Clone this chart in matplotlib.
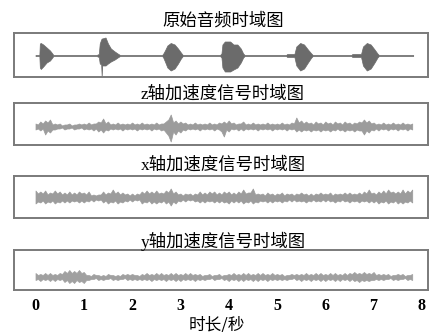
import numpy as np
import matplotlib
matplotlib.use("Agg")
import matplotlib.pyplot as plt

plt.rcParams['font.family'] = ['Liberation Serif', 'Noto Sans CJK SC', 'DejaVu Sans']

# ---------------- data (amplitudes in pixel-like units) -------------
titles = ["原始音频时域图", "z轴加速度信号时域图", "x轴加速度信号时域图", "y轴加速度信号时域图"]
xlabel = "时长/秒"
xticks = [0, 1, 2, 3, 4, 5, 6, 7, 8]

# original audio: envelope points (time s, upper, lower)
audio_t = [0.0, 0.08, 0.09, 0.11, 0.16, 0.23, 0.30, 0.34, 0.37,
           1.27, 1.29, 1.31, 1.33, 1.36, 1.37, 1.38, 1.45, 1.50, 1.56, 1.64, 1.70, 1.75,
           2.62, 2.64, 2.68, 2.73, 2.80, 2.88, 2.95, 3.01, 3.05,
           3.82, 3.85, 3.87, 3.92, 4.03, 4.10, 4.18, 4.25, 4.30, 4.33,
           5.19, 5.21, 5.36, 5.40, 5.48, 5.56, 5.64, 5.71, 5.74,
           6.54, 6.56, 6.74, 6.78, 6.86, 6.94, 7.02, 7.08, 7.11,
           7.82]
audio_up = [0.5, 0.5, 12, 12.5, 11, 8, 5, 2.5, 0.5,
            0.5, 1.2, 1.2, 12, 16, 17, 17, 18, 12, 7, 4, 2, 0.5,
            0.5, 1.5, 5, 10, 12.5, 11, 7, 3, 0.5,
            0.5, 2, 11, 14, 14, 11, 11, 7, 2, 0.5,
            0.5, 1.5, 1.5, 9, 12.5, 11, 6, 2, 0.5,
            0.5, 1.5, 1.5, 9, 12.5, 11, 6, 2, 0.5,
            0.5]
audio_dn = [0.5, 0.5, 12, 13.5, 11, 7, 5, 2.5, 0.5,
            0.5, 1.2, 1.2, 8, 9, 21, 10, 10, 8, 6, 4, 2, 0.5,
            0.5, 1.5, 6, 12, 15, 13, 8, 3, 0.5,
            0.5, 2, 12, 16, 16, 14, 12, 7, 2, 0.5,
            0.5, 1.5, 1.5, 10, 15, 13, 7, 2, 0.5,
            0.5, 1.5, 1.5, 10, 15, 13, 7, 2, 0.5,
            0.5]

# accelerometer envelopes: peaks read every 0.1 s (0.0 .. 7.8 s)
z_up = [3, 5, 6, 7, 3, 3, 2, 3, 2, 3,
        3, 4, 3, 5, 8, 5, 3, 4, 3, 3,
        4, 3, 4, 3, 3, 4, 3, 5, 12, 6,
        5, 4, 3, 4, 3, 3, 4, 3, 4, 5,
        6, 4, 3, 5, 3, 4, 3, 3, 4, 3,
        3, 4, 3, 4, 9, 6, 5, 4, 5, 4,
        5, 4, 5, 4, 5, 4, 4, 5, 7, 6,
        4, 3, 4, 3, 4, 3, 4, 3, 3]
z_dn = [3, 4, 8, 6, 3, 2, 3, 2, 3, 2,
        3, 3, 4, 5, 6, 4, 3, 3, 4, 3,
        3, 4, 3, 3, 4, 3, 4, 6, 15, 8,
        6, 4, 3, 3, 4, 3, 3, 4, 3, 10,
        5, 3, 4, 4, 3, 3, 4, 3, 3, 4,
        3, 3, 4, 3, 5, 5, 4, 5, 4, 5,
        4, 5, 4, 4, 5, 4, 5, 4, 8, 6,
        4, 4, 3, 4, 3, 4, 3, 4, 3]
x_up = [7, 6, 7, 5, 7, 6, 5, 6, 5, 6,
        5, 6, 3, 3, 6, 5, 8, 6, 5, 4,
        4, 4, 6, 7, 6, 7, 5, 7, 9, 6,
        4, 4, 4, 4, 6, 5, 6, 6, 5, 6,
        6, 5, 6, 8, 5, 9, 4, 4, 5, 4,
        4, 5, 4, 4, 4, 5, 4, 4, 4, 5,
        4, 5, 4, 4, 5, 5, 4, 5, 6, 8,
        5, 6, 7, 8, 6, 6, 8, 7, 8]
x_dn = [6, 5, 6, 5, 6, 5, 5, 5, 4, 5,
        5, 4, 4, 3, 5, 6, 5, 6, 5, 4,
        4, 3, 6, 5, 6, 6, 5, 6, 8, 6,
        4, 4, 3, 4, 5, 5, 4, 5, 5, 5,
        6, 5, 5, 6, 5, 6, 5, 4, 5, 5,
        4, 5, 4, 4, 4, 4, 5, 4, 4, 4,
        4, 4, 5, 4, 4, 5, 4, 5, 4, 5,
        5, 6, 5, 6, 5, 6, 6, 5, 5]
y_up = [4, 3, 4, 4, 3, 4, 6, 7, 6, 7,
        5, 2, 3, 2, 2, 3, 2, 2, 3, 3,
        3, 2, 3, 4, 3, 4, 4, 3, 4, 4,
        3, 4, 4, 3, 3, 2, 3, 2, 3, 2,
        3, 4, 3, 4, 4, 3, 4, 4, 3, 4,
        3, 3, 2, 3, 3, 3, 4, 3, 4, 4,
        3, 4, 4, 3, 4, 4, 5, 4, 5, 4,
        5, 3, 3, 3, 2, 3, 3, 2, 3]
y_dn = [3, 4, 3, 4, 4, 3, 5, 6, 6, 5,
        6, 3, 2, 3, 3, 2, 3, 3, 2, 3,
        3, 3, 3, 3, 4, 3, 3, 4, 3, 4,
        4, 3, 3, 4, 3, 3, 2, 3, 2, 3,
        4, 3, 4, 4, 3, 4, 4, 3, 4, 3,
        3, 3, 3, 2, 3, 4, 3, 4, 3, 4,
        4, 3, 4, 4, 3, 4, 4, 5, 4, 4,
        3, 3, 3, 2, 3, 3, 2, 3, 3]

# troughs between the peaks (0.05 .. 7.75 s)
z_up_mid = [2, 3, 4, 2, 2, 1, 2, 1, 2, 2,
            2, 2, 3, 4, 3, 2, 2, 2, 2, 2,
            2, 2, 2, 2, 2, 2, 3, 7, 4, 3,
            3, 2, 2, 2, 2, 2, 2, 2, 3, 3,
            3, 2, 3, 2, 2, 2, 2, 2, 2, 2,
            2, 2, 2, 3, 4, 3, 3, 2, 3, 2,
            3, 2, 3, 2, 3, 2, 3, 4, 4, 3,
            2, 2, 2, 2, 2, 2, 2, 2]
z_dn_mid = [2, 2, 4, 3, 2, 1, 2, 1, 2, 1,
            2, 2, 2, 3, 3, 2, 2, 2, 2, 2,
            2, 2, 2, 2, 2, 2, 3, 9, 5, 4,
            3, 2, 2, 2, 2, 2, 2, 2, 5, 3,
            2, 2, 2, 2, 2, 2, 2, 2, 2, 2,
            2, 2, 2, 2, 3, 3, 3, 3, 3, 3,
            3, 3, 2, 3, 3, 3, 3, 4, 4, 3,
            2, 2, 2, 2, 2, 2, 2, 2]
x_up_mid = [4, 4, 3, 4, 4, 3, 3, 3, 3, 4,
            3, 2, 2, 3, 3, 4, 4, 3, 3, 2,
            2, 3, 4, 4, 4, 4, 4, 5, 4, 3,
            2, 3, 2, 3, 3, 3, 4, 3, 3, 4,
            3, 3, 4, 4, 5, 3, 3, 2, 3, 2,
            3, 2, 3, 2, 3, 3, 2, 2, 3, 3,
            3, 2, 3, 3, 3, 3, 3, 3, 4, 4,
            3, 4, 4, 5, 4, 4, 4, 5]
x_dn_mid = [4, 3, 4, 3, 4, 3, 3, 3, 3, 3,
            3, 2, 2, 2, 3, 4, 3, 4, 3, 2,
            2, 2, 4, 3, 4, 4, 3, 4, 4, 3,
            2, 2, 2, 3, 3, 3, 3, 3, 3, 4,
            3, 3, 3, 4, 3, 4, 3, 3, 3, 3,
            3, 3, 2, 2, 3, 3, 3, 2, 3, 2,
            2, 3, 3, 2, 3, 3, 3, 3, 3, 3,
            3, 4, 3, 4, 3, 4, 4, 3]
y_up_mid = [2, 2, 2, 2, 2, 3, 4, 4, 4, 4,
            2, 1, 2, 1, 1, 2, 1, 1, 2, 2,
            2, 1, 2, 2, 2, 2, 2, 2, 2, 2,
            2, 2, 2, 2, 1, 2, 1, 2, 1, 2,
            2, 2, 2, 2, 2, 2, 2, 2, 2, 2,
            2, 1, 2, 2, 2, 2, 2, 2, 2, 2,
            2, 2, 2, 2, 2, 3, 3, 3, 3, 3,
            2, 2, 2, 1, 2, 2, 1, 2]
y_dn_mid = [2, 2, 2, 2, 2, 2, 3, 4, 3, 4,
            3, 2, 1, 2, 2, 1, 2, 2, 1, 2,
            2, 2, 2, 2, 2, 2, 2, 2, 2, 2,
            2, 2, 2, 2, 2, 2, 1, 2, 1, 2,
            2, 2, 2, 2, 2, 2, 2, 2, 2, 2,
            2, 2, 2, 1, 2, 2, 2, 2, 2, 2,
            2, 2, 2, 2, 2, 2, 3, 3, 3, 3,
            2, 2, 2, 1, 2, 2, 1, 2]


def interleave(peaks, mids):
    out = np.empty(len(peaks) + len(mids))
    out[0::2] = peaks
    out[1::2] = mids
    return out


acc_t = np.round(np.arange(157) * 0.05, 2)

# ---------------- layout ----------------
W, H = 431, 332
fig = plt.figure(figsize=(W / 100, H / 100), dpi=100)

left_px, right_px = 14, 428.5
panels_px = [(33, 77), (103, 145), (176, 218), (250, 290)]   # top, bottom
offsets = [-0.5, -2.5, -0.5, -7]                              # signal centre shift
title_y = [21.5, 94, 165, 241]
colors = ['#6b6b6b', '#9c9c9c', '#9c9c9c', '#a0a0a0']

series = [
    (np.array(audio_t), np.array(audio_up), np.array(audio_dn)),
    (acc_t, interleave(z_up, z_up_mid), interleave(z_dn, z_dn_mid)),
    (acc_t, interleave(x_up, x_up_mid), interleave(x_dn, x_dn_mid)),
    (acc_t, interleave(y_up, y_up_mid), interleave(y_dn, y_dn_mid)),
]

xpx0, xscale = 35.5, 48.3
xlim = ((left_px - xpx0) / xscale, (right_px - xpx0) / xscale)

for i, ((top, bot), (t, up, dn)) in enumerate(zip(panels_px, series)):
    ax = fig.add_axes([left_px / W, 1 - bot / H, (right_px - left_px) / W, (bot - top) / H])
    h = bot - top
    off = offsets[i]
    ax.fill_between(t, off + up, off - dn, color=colors[i], linewidth=0.5,
                    edgecolor=colors[i])
    ax.set_xlim(*xlim)
    ax.set_ylim(-h / 2, h / 2)
    ax.set_yticks([])
    for s in ax.spines.values():
        s.set_color('#7a7a7a')
        s.set_linewidth(1.4)
    if i < 3:
        ax.set_xticks([])
    else:
        ax.set_xticks(xticks)
        ax.set_xticklabels([str(v) for v in xticks], fontsize=11.5,
                           fontweight='bold', family=['Liberation Serif'])
        ax.tick_params(axis='x', length=0, pad=6)
    fig.text(223 / W, 1 - title_y[i] / H, titles[i], ha='center', va='center',
             fontsize=12.5, family=['Liberation Serif', 'Noto Sans CJK SC'])

fig.text(217 / W, 1 - 325 / H, xlabel, ha='center', va='center', fontsize=12,
         family=['Noto Sans CJK SC'])

fig.savefig('out.png', dpi=100)
